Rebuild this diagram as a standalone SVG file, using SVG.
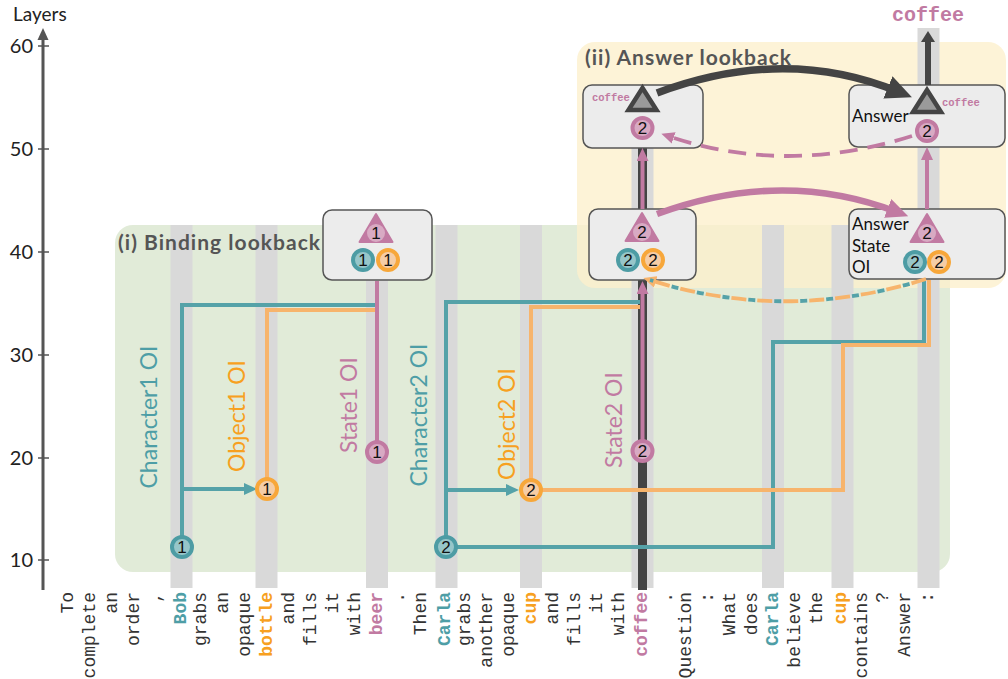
<svg xmlns="http://www.w3.org/2000/svg" width="1008" height="679" viewBox="0 0 1008 679">
<style>
.lbl{font-family:Lato,"Open Sans","Liberation Sans",sans-serif}
.tick{font-family:Lato,"Liberation Sans",sans-serif;font-size:20px;fill:#222;text-anchor:end}
.sect{font-family:Lato,"Liberation Sans",sans-serif;font-size:21px;font-weight:bold;fill:#555}
.rot{font-family:Lato,"Liberation Sans",sans-serif;font-size:23px;text-anchor:middle}
.tok{font-family:"Liberation Mono","Courier New",monospace;font-size:18px;fill:#333;text-anchor:end}
.tok.bt{font-weight:bold;fill:#4e9ea6}
.tok.bo{font-weight:bold;fill:#f7a020}
.tok.bp{font-weight:bold;fill:#c17aa2}
.col{fill:#d9d9d9}
.box{fill:#ececec;stroke:#555;stroke-width:1.5}
.num{font-family:"Liberation Sans",Arial,sans-serif;font-size:17px;fill:#111;text-anchor:middle}
.boxtxt{font-family:Lato,"Liberation Sans",sans-serif;font-size:17px;fill:#111}
.mono-s{font-family:"Liberation Mono","Courier New",monospace;font-size:10.5px;font-weight:bold;fill:#c17aa2}
.teal-l{fill:none;stroke:#55a2a8;stroke-width:4}
.orange-l{fill:none;stroke:#f7b46c;stroke-width:4}
.pink-l{fill:none;stroke:#c17aa2;stroke-width:4}
.cteal{fill:#97c6c9;stroke:#4d9ca4;stroke-width:4}
.corange{fill:#f5cda6;stroke:#f7a73a;stroke-width:4}
.cpink{fill:#d8aac3;stroke:#c17aa2;stroke-width:4}
.tri{fill:#c17aa2;stroke:#c17aa2;stroke-width:2;stroke-linejoin:round}
.tri-in{fill:#d8aac3}
.dtri{fill:#9a9a9a;stroke:#444;stroke-width:4.5}
</style>
<defs>
<marker id="ahDarkLg" markerUnits="userSpaceOnUse" markerWidth="26" markerHeight="24" refX="12" refY="12" orient="auto"><path d="M0,0 L26,12 L0,24 z" fill="#444"/></marker>
<marker id="ahPinkLg" markerUnits="userSpaceOnUse" markerWidth="22" markerHeight="20" refX="10" refY="10" orient="auto"><path d="M0,0 L22,10 L0,20 z" fill="#c17aa2"/></marker>
<marker id="ahPink" markerUnits="userSpaceOnUse" markerWidth="13" markerHeight="12" refX="6" refY="6" orient="auto"><path d="M0,0 L13,6 L0,12 z" fill="#c17aa2"/></marker>
<marker id="ahTeal" markerUnits="userSpaceOnUse" markerWidth="13" markerHeight="12" refX="6" refY="6" orient="auto"><path d="M0,0 L13,6 L0,12 z" fill="#55a2a8"/></marker>
<marker id="ahOrange" markerUnits="userSpaceOnUse" markerWidth="13" markerHeight="12" refX="6" refY="6" orient="auto"><path d="M0,0 L13,6 L0,12 z" fill="#f7b46c"/></marker>
<marker id="ahDark" markerUnits="userSpaceOnUse" markerWidth="12" markerHeight="14" refX="2" refY="7" orient="auto"><path d="M0,0 L11,7 L0,14 z" fill="#444"/></marker>
</defs>

<g id="backgrounds">
<rect x="115" y="225" width="835" height="347" rx="18" fill="#e1ebd8"/>
<rect x="577" y="42" width="429" height="246" rx="18" fill="#fdf0cc" fill-opacity="0.78"/>
</g>

<g id="columns">
<rect class="col" x="170.5" y="225" width="22" height="363"/>
<rect class="col" x="255.5" y="225" width="22" height="363"/>
<rect class="col" x="366" y="225" width="22" height="363"/>
<rect class="col" x="435.5" y="225" width="22" height="363"/>
<rect class="col" x="520" y="225" width="22" height="363"/>
<rect class="col" x="631.5" y="95" width="22" height="493"/>
<rect class="col" x="762" y="225" width="22" height="363"/>
<rect class="col" x="831.5" y="225" width="22" height="363"/>
<rect class="col" x="917.5" y="28" width="22" height="560"/>
<rect x="638" y="100" width="9" height="490" fill="#444"/>
</g>

<g id="section-labels">
<text class="sect" x="118" y="250" textLength="202">(i) Binding lookback</text>
<text class="sect" x="585" y="65" textLength="206">(ii) Answer lookback</text>
</g>

<g id="axis">
<line x1="43" y1="590" x2="43" y2="38" stroke="#555" stroke-width="3"/>
<path d="M37.5,40 L43,28 L48.5,40 z" fill="#555"/>
<g stroke="#555" stroke-width="1.5">
<line x1="38" y1="46" x2="49" y2="46"/>
<line x1="38" y1="149" x2="49" y2="149"/>
<line x1="38" y1="252" x2="49" y2="252"/>
<line x1="38" y1="355" x2="49" y2="355"/>
<line x1="38" y1="458" x2="49" y2="458"/>
<line x1="38" y1="560" x2="49" y2="560"/>
</g>
<text class="tick" x="33" y="53">60</text>
<text class="tick" x="33" y="156">50</text>
<text class="tick" x="33" y="259">40</text>
<text class="tick" x="33" y="362">30</text>
<text class="tick" x="33" y="465">20</text>
<text class="tick" x="33" y="567">10</text>
<text class="lbl" x="13" y="21" font-size="19" fill="#222">Layers</text>
</g>

<g id="box-binding1">
<rect class="box" x="323" y="210" width="109" height="70" rx="9"/>
<path class="tri" d="M376,214 L359.5,242 L392.5,242 z"/>
<circle class="tri-in" cx="376" cy="233" r="9"/><text class="num" x="376" y="239">1</text>
<circle class="cteal" cx="363" cy="260" r="10"/><text class="num" x="363" y="266">1</text>
<circle class="corange" cx="388" cy="260" r="10"/><text class="num" x="388" y="266">1</text>
</g>

<g id="box-binding2">
<rect class="box" x="589" y="209" width="107" height="71" rx="9"/>
<path class="tri" d="M642,213 L625.5,241 L658.5,241 z"/>
<circle class="tri-in" cx="642" cy="232" r="9"/><text class="num" x="642" y="238">2</text>
<circle class="cteal" cx="628" cy="260" r="10"/><text class="num" x="628" y="266">2</text>
<circle class="corange" cx="653" cy="260" r="10"/><text class="num" x="653" y="266">2</text>
</g>

<g id="box-answer-state">
<rect class="box" x="849" y="209" width="156" height="70" rx="9"/>
<text class="boxtxt" x="852" y="230">Answer</text>
<text class="boxtxt" x="852" y="252">State</text>
<text class="boxtxt" x="852" y="273">OI</text>
<path class="tri" d="M927,214 L910.5,242 L943.5,242 z"/>
<circle class="tri-in" cx="927" cy="233" r="9"/><text class="num" x="927" y="239">2</text>
<circle class="cteal" cx="915" cy="262" r="10"/><text class="num" x="915" y="268">2</text>
<circle class="corange" cx="939" cy="262" r="10"/><text class="num" x="939" y="268">2</text>
</g>

<g id="box-lookback-source">
<rect class="box" x="583" y="85" width="120" height="63" rx="9"/>
<text class="mono-s" x="592" y="101">coffee</text>
<path class="dtri" d="M642.5,88 L628.5,110 L656.5,110 z"/>
<circle class="cpink" cx="642.5" cy="128" r="10"/><text class="num" x="642.5" y="134">2</text>
</g>

<g id="box-answer">
<rect class="box" x="849" y="85" width="156" height="62" rx="9"/>
<text class="boxtxt" x="852" y="122">Answer</text>
<text class="mono-s" x="942" y="106">coffee</text>
<path class="dtri" d="M927,90 L913,112 L941,112 z"/>
<circle class="cpink" cx="927" cy="131" r="10"/><text class="num" x="927" y="137">2</text>
</g>

<g id="connectors">
<path class="teal-l" d="M182,547 V305 H376"/>
<path class="orange-l" d="M267,489 V310 H376"/>
<path class="teal-l" d="M182,489 H250" marker-end="url(#ahTeal)"/>
<path class="pink-l" d="M377,452 V281"/>
<path class="teal-l" d="M446,547 V302 H640"/>
<path class="orange-l" d="M531,490 V307 H640"/>
<path class="teal-l" d="M446,490 H512" marker-end="url(#ahTeal)"/>
<path class="teal-l" d="M446,547 H773 V342 H924 V280"/>
<path class="orange-l" d="M531,490 H843 V345 H929 V280"/>
<path class="pink-l" d="M642.5,452 V288" marker-end="url(#ahPink)"/>
<path class="pink-l" d="M642.5,209 V155" marker-end="url(#ahPink)"/>
<path class="pink-l" d="M927,209 V154" marker-end="url(#ahPink)"/>
<path d="M928,85 V40" fill="none" stroke="#444" stroke-width="6" marker-end="url(#ahDark)"/>
<path d="M657,93 Q785,45 899,92" fill="none" stroke="#444" stroke-width="7.5" marker-end="url(#ahDarkLg)"/>
<path d="M657,214 Q782,168 897,212" fill="none" stroke="#c17aa2" stroke-width="6.5" marker-end="url(#ahPinkLg)"/>
<path d="M912,136 Q785,176 668,136" fill="none" stroke="#c17aa2" stroke-width="3.8" stroke-dasharray="18 10" marker-end="url(#ahPink)"/>
<path d="M926,279 Q785,323 650,280" fill="none" stroke="#f7b46c" stroke-width="3.8" stroke-dasharray="15 11" marker-end="url(#ahOrange)"/>
<path d="M926,279 Q785,323 650,280" fill="none" stroke="#55a2a8" stroke-width="3.8" stroke-dasharray="7 19" stroke-dashoffset="-17"/>
</g>

<g id="node-bob1"><circle class="cteal" cx="182" cy="547" r="10"/><text class="num" x="182" y="553">1</text></g>
<g id="node-bottle1"><circle class="corange" cx="267" cy="489" r="10"/><text class="num" x="267" y="495">1</text></g>
<g id="node-beer1"><circle class="cpink" cx="377" cy="452" r="10"/><text class="num" x="377" y="458">1</text></g>
<g id="node-carla2"><circle class="cteal" cx="446" cy="547" r="10"/><text class="num" x="446" y="553">2</text></g>
<g id="node-cup2"><circle class="corange" cx="531" cy="490" r="10"/><text class="num" x="531" y="496">2</text></g>
<g id="node-coffee2"><circle class="cpink" cx="642.5" cy="451" r="10"/><text class="num" x="642.5" y="457">2</text></g>

<g id="label-character1"><text class="rot" fill="#4e9ea6" transform="translate(157,417) rotate(-90)">Character1 OI</text></g>
<g id="label-object1"><text class="rot" fill="#f7a020" transform="translate(245,416) rotate(-90)">Object1 OI</text></g>
<g id="label-state1"><text class="rot" fill="#c17aa2" transform="translate(357,405) rotate(-90)">State1 OI</text></g>
<g id="label-character2"><text class="rot" fill="#4e9ea6" transform="translate(427,415) rotate(-90)">Character2 OI</text></g>
<g id="label-object2"><text class="rot" fill="#f7a020" transform="translate(515,424) rotate(-90)">Object2 OI</text></g>
<g id="label-state2"><text class="rot" fill="#c17aa2" transform="translate(622,420) rotate(-90)">State2 OI</text></g>

<g id="output">
<text x="928" y="21" text-anchor="middle" font-family="'Liberation Mono','Courier New',monospace" font-size="20" font-weight="bold" fill="#c17aa2">coffee</text>
</g>

<g id="tokens">
<text class="tok" transform="translate(73,592) rotate(-90)">To</text>
<text class="tok" transform="translate(95,592) rotate(-90)">complete</text>
<text class="tok" transform="translate(117,592) rotate(-90)">an</text>
<text class="tok" transform="translate(139,592) rotate(-90)">order</text>
<text class="tok" transform="translate(161,592) rotate(-90)">,</text>
<text class="tok bt" transform="translate(186,592) rotate(-90)">Bob</text>
<text class="tok" transform="translate(206,592) rotate(-90)">grabs</text>
<text class="tok" transform="translate(228,592) rotate(-90)">an</text>
<text class="tok" transform="translate(250,592) rotate(-90)">opaque</text>
<text class="tok bo" transform="translate(272,592) rotate(-90)">bottle</text>
<text class="tok" transform="translate(294,592) rotate(-90)">and</text>
<text class="tok" transform="translate(316,592) rotate(-90)">fills</text>
<text class="tok" transform="translate(338,592) rotate(-90)">it</text>
<text class="tok" transform="translate(360,592) rotate(-90)">with</text>
<text class="tok bp" transform="translate(382,592) rotate(-90)">beer</text>
<text class="tok" transform="translate(404,592) rotate(-90)">.</text>
<text class="tok" transform="translate(426,592) rotate(-90)">Then</text>
<text class="tok bt" transform="translate(450,592) rotate(-90)">Carla</text>
<text class="tok" transform="translate(470,592) rotate(-90)">grabs</text>
<text class="tok" transform="translate(492,592) rotate(-90)">another</text>
<text class="tok" transform="translate(514,592) rotate(-90)">opaque</text>
<text class="tok bo" transform="translate(536,592) rotate(-90)">cup</text>
<text class="tok" transform="translate(558,592) rotate(-90)">and</text>
<text class="tok" transform="translate(580,592) rotate(-90)">fills</text>
<text class="tok" transform="translate(602,592) rotate(-90)">it</text>
<text class="tok" transform="translate(624,592) rotate(-90)">with</text>
<text class="tok bp" transform="translate(647,592) rotate(-90)">coffee</text>
<text class="tok" transform="translate(672,592) rotate(-90)">.</text>
<text class="tok" transform="translate(691,592) rotate(-90)">Question</text>
<text class="tok" transform="translate(713,592) rotate(-90)">:</text>
<text class="tok" transform="translate(735,592) rotate(-90)">What</text>
<text class="tok" transform="translate(757,592) rotate(-90)">does</text>
<text class="tok bt" transform="translate(778,592) rotate(-90)">Carla</text>
<text class="tok" transform="translate(800,592) rotate(-90)">believe</text>
<text class="tok" transform="translate(822,592) rotate(-90)">the</text>
<text class="tok bo" transform="translate(846,592) rotate(-90)">cup</text>
<text class="tok" transform="translate(867,592) rotate(-90)">contains</text>
<text class="tok" transform="translate(888,592) rotate(-90)">?</text>
<text class="tok" transform="translate(910,592) rotate(-90)">Answer</text>
<text class="tok" transform="translate(933,592) rotate(-90)">:</text>
</g>
</svg>
